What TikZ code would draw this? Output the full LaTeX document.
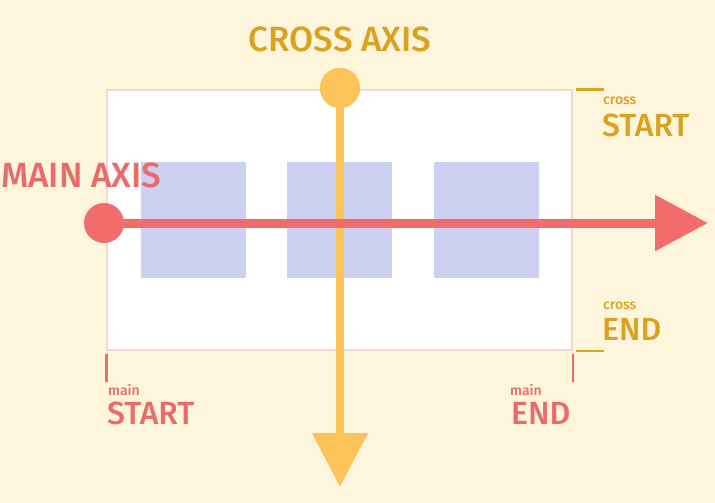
\documentclass[tikz,border=0pt]{standalone}
\usepackage{fontspec}
\setmainfont{Fira Sans}[UprightFont=* Medium]
\usepackage{tikz}
\usetikzlibrary{arrows.meta,positioning}
\usepackage{xcolor}
\definecolor{bgcream}{HTML}{FDF5DC}
\definecolor{framepink}{HTML}{F0D9CC}
\definecolor{boxblue}{HTML}{CDD0F0}
\definecolor{mainred}{HTML}{F26C6C}
\definecolor{axisgold}{HTML}{FCC458}
\definecolor{textgold}{HTML}{DBA220}
\definecolor{textred}{HTML}{EC6A6A}

\begin{document}
\begin{tikzpicture}[x=1pt,y=-1pt,
     item/.style={fill=boxblue,minimum width=105pt,minimum height=116pt,
       inner sep=0pt},
     dot/.style={circle,minimum size=40pt,inner sep=0pt},
     big/.style={font=\fontsize{32}{32}\selectfont,inner sep=0pt},
     small/.style={font=\fontsize{14}{14}\selectfont,inner sep=0pt},
     tick/.style={line width=2.5pt}]
    \fill[bgcream] (0,0) rectangle (715,503);
    \useasboundingbox (0,0) rectangle (715,503);
    \node[draw=framepink,line width=1.5pt,fill=white,minimum width=465pt,
      minimum height=260pt,inner sep=0pt] (frame) at (339.5,220) {};
    \node[item] (box1) at (193.5,220) {};
    \node[item] (box2) at (339.5,220) {};
    \node[item] (box3) at (486,220) {};
    % cross axis
    \node[dot,fill=axisgold] (cdot) at (340,88) {};
    \coordinate (ctip) at (340,487);
    \draw[axisgold,line width=8pt,-{Triangle[length=54pt,width=54pt]}]
      (cdot.center) -- (ctip);
    \node[dot,fill=axisgold] at (cdot) {};
    % main axis
    \node[dot,fill=mainred] (mdot) at (104,223) {};
    \coordinate (mtip) at (708,223);
    \draw[mainred,line width=9pt,-{Triangle[length=53pt,width=54pt]}]
      (mdot.center) -- (mtip);
    \node[big,text=textgold,anchor=base] (clab) at (340,52)
      {\fontsize{35}{35}\selectfont CROSS AXIS};
    \node[big,text=textred,anchor=base west] (mlab) at (1,187)
      {\fontsize{35}{35}\selectfont MAIN AXIS};
    % cross start / end
    \draw[tick,textgold] ([xshift=3pt]frame.north east) -- ++(28,0);
    \draw[tick,textgold] ([xshift=3pt]frame.south east) -- ++(28,0);
    \node[small,text=textgold,anchor=base west] (csmall) at (603,104) {cross};
    \node[big,text=textgold,anchor=base west] (cstart) at (602,136) {START};
    \node[small,text=textgold,anchor=base west] (esmall) at (603,309) {cross};
    \node[big,text=textgold,anchor=base west] (cend) at (602,340) {END};
    % main start / end
    \draw[tick,textred] ([yshift=-3pt]frame.south west) -- ++(0,28);
    \draw[tick,textred] ([yshift=-3pt]frame.south east) -- ++(0,28);
    \node[small,text=textred,anchor=base west] (msmall) at (108,395) {main};
    \node[big,text=textred,anchor=base west] (mstart) at (107,424) {START};
    \node[small,text=textred,anchor=base west] (nsmall) at (510,395) {main};
    \node[big,text=textred,anchor=base west] (mend) at (511,424) {END};
  \end{tikzpicture}
\end{document}
